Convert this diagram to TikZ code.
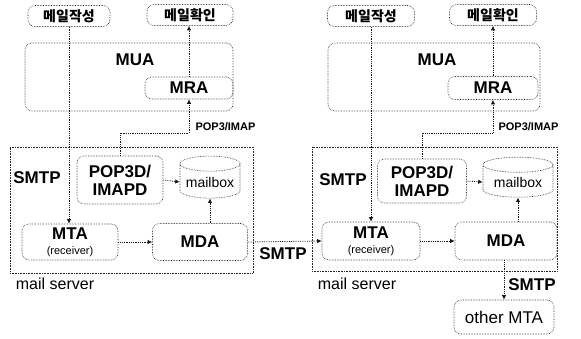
\documentclass[tikz,border=0pt]{standalone}
\usepackage{fontspec}
\setmainfont{Liberation Sans}
\newfontfamily\krfont{Noto Sans CJK KR}
\usepackage{tikz}
\usetikzlibrary{arrows.meta,shapes.geometric,calc}

\begin{document}
\begin{tikzpicture}[x=1pt,y=-1pt,
    box/.style={draw=black!85,densely dotted,line width=0.6pt,rounded corners=7pt,align=center,inner sep=1pt},
    comp/.style={font=\fontsize{17}{18}\selectfont\bfseries},
    kor/.style={font=\krfont\fontsize{14}{16}\selectfont\bfseries},
    txt/.style={font=\fontsize{16}{18}\selectfont},
    proto/.style={font=\fontsize{11}{12}\selectfont\bfseries},
    store/.style={draw=black!90,densely dotted,line width=0.6pt,cylinder,shape border rotate=90,aspect=0.3,inner sep=1pt,font=\fontsize{14}{16}\selectfont},
    arr/.style={-{Latex[length=4.5pt,width=4.5pt]},densely dotted,draw=black!90,line width=0.8pt}
]
    \useasboundingbox (0,0) rectangle (581,338);

    % left host
    \node[box,kor,minimum width=82,minimum height=21] (write1) at (69,16) {메일작성};
    \node[box,kor,minimum width=86,minimum height=21] (read1) at (190,15) {메일확인};
    \node[box,minimum width=208,minimum height=68] (mua1) at (129,77) {};
    \node[comp] (mualbl1) at (135,60) {MUA};
    \node[box,comp,minimum width=88,minimum height=22] (mra1) at (189,88) {MRA};

    \node[box,rounded corners=0pt,minimum width=243,minimum height=126] (server1) at (131.5,210) {};
    \node[comp] (smtplbl1) at (37,178) {SMTP};
    \node[box,comp,minimum width=86,minimum height=48] (pop1) at (120,180) {POP3D/\\IMAPD};
    \node[store,minimum width=60,minimum height=42] (mbox1) at (210,182) {mailbox};
    \node[box,comp,minimum width=96,minimum height=36] (mta1) at (70,242) {MTA\\[-3pt]{\fontsize{11}{12}\selectfont\mdseries(receiver)}};
    \node[box,comp,minimum width=95,minimum height=37] (mda1) at (200,242) {MDA};
    \node[txt] (srvlbl1) at (55,284) {mail server};

    % right host
    \node[box,kor,minimum width=87,minimum height=21] (write2) at (371,16) {메일작성};
    \node[box,kor,minimum width=87,minimum height=21] (read2) at (493,15) {메일확인};
    \node[box,minimum width=212,minimum height=68] (mua2) at (434,77) {};
    \node[comp] (mualbl2) at (437,60) {MUA};
    \node[box,comp,minimum width=90,minimum height=23] (mra2) at (493,88) {MRA};

    \node[box,rounded corners=0pt,minimum width=245,minimum height=124] (server2) at (434.5,209) {};
    \node[comp] (smtplbl2) at (343,180) {SMTP};
    \node[box,comp,minimum width=89,minimum height=44] (pop2) at (422,181) {POP3D/\\IMAPD};
    \node[store,minimum width=70,minimum height=40] (mbox2) at (518,182) {mailbox};
    \node[box,comp,minimum width=98,minimum height=38] (mta2) at (371,241) {MTA\\[-3pt]{\fontsize{11}{12}\selectfont\mdseries(receiver)}};
    \node[box,comp,minimum width=102,minimum height=38] (mda2) at (506,241) {MDA};
    \node[txt] (srvlbl2) at (357,284) {mail server};

    \node[box,txt,font=\fontsize{17}{19}\selectfont,minimum width=100,minimum height=34] (other) at (504,317) {other MTA};
    \node[comp] (smtplbl4) at (532,285) {SMTP};
    \node[comp] (smtplbl3) at (283,254) {SMTP};

    % links
    \coordinate (pk1) at (120,133);
    \coordinate (pk2) at (422,133);
    \node[proto,anchor=west] (poplbl1) at (192,127) {POP3/IMAP};
    \node[proto,anchor=west] (poplbl2) at (495,127) {POP3/IMAP};

    \draw[arr] (write1.south) -- (write1.south |- mta1.north);
    \draw[arr] (mra1.north) -- (mra1.north |- read1.south);
    \draw[arr] (pop1.north) -- (pk1) -| (mra1.south);
    \draw[arr] (pop1.east) -- (mbox1.west);
    \draw[arr] (mbox1.south |- mda1.north) -- (mbox1.south);
    \draw[arr] (mta1.east) -- (mda1.west);
    \draw[arr] (mda1.east) -- (mta2.west);

    \draw[arr] (write2.south) -- (write2.south |- mta2.north);
    \draw[arr] (mra2.north) -- (mra2.north |- read2.south);
    \draw[arr] (pop2.north) -- (pk2) -| (mra2.south);
    \draw[arr] (pop2.east) -- (mbox2.west);
    \draw[arr] (mbox2.south |- mda2.north) -- (mbox2.south);
    \draw[arr] (mta2.east) -- (mda2.west);
    \draw[arr] (mda2.south -| other.north) -- (other.north);
\end{tikzpicture}
\end{document}
